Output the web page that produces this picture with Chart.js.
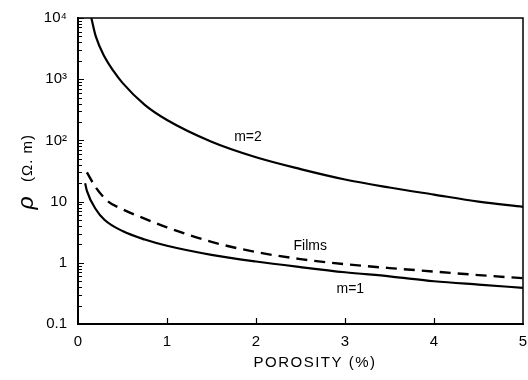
<!DOCTYPE html>
<html>
<head>
<meta charset="utf-8">
<script src="https://cdn.jsdelivr.net/npm/chart.js@4/dist/chart.umd.min.js"></script>
<style>
  html, body { margin: 0; padding: 0; background: #fff; }
  #wrap { width: 528px; height: 380px; }
</style>
</head>
<body>
<div id="wrap"><canvas id="rhoChart" width="528" height="380"></canvas></div>
<script>
// porosity (%) and resistivity (ohm.m)
const m2Porosity = [0.15, 0.2, 0.3, 0.4, 0.5, 0.75, 1, 1.5, 2, 2.5, 3, 3.5, 4, 4.5, 5];
const m2Rho      = [10000, 5000, 2300, 1350, 870, 380, 215, 95, 53, 34, 23, 17, 13, 10, 8.2];

const filmsPorosity = [0.1, 0.2, 0.34, 0.5, 0.64, 1, 1.5, 2, 2.5, 3, 3.5, 4, 4.5, 5];
const filmsRho      = [30, 17, 10, 7.5, 6.1, 3.8, 2.2, 1.5, 1.15, 0.95, 0.82, 0.72, 0.63, 0.56];

const m1Porosity = [0.08, 0.1, 0.2, 0.3, 0.5, 0.75, 1, 1.5, 2, 2.5, 3, 3.5, 4, 4.5, 5];
const m1Rho      = [20, 15, 7.5, 5, 3.3, 2.4, 1.9, 1.35, 1.05, 0.85, 0.7, 0.6, 0.5, 0.44, 0.39];

const xTicks = [0, 1, 2, 3, 4, 5];
const yTicks = [0.1, 1, 10, 100, 1000, 10000];
const yTickLabels = ['0.1', '1', '10', '10\u00B2', '10\u00B3', '10\u2074'];

const curveLabels = ['m=2', 'Films', 'm=1'];

function toPoints(xs, ys) {
    return xs.map((x, i) => ({ x: x, y: ys[i] }));
}

const FONT = '"Liberation Sans", Arial, sans-serif';

// inward ticks, top/right frame, titles and the curve labels
const decorPlugin = {
    id: 'decor',
    afterDraw(chart) {
        const ctx = chart.ctx;
        const xs = chart.scales.x;
        const ys = chart.scales.y;
        const a = chart.chartArea;
        ctx.save();
        ctx.strokeStyle = '#000';

        // frame top and right
        ctx.lineWidth = 1.5;
        ctx.beginPath();
        ctx.moveTo(a.left, a.top);
        ctx.lineTo(a.right, a.top);
        ctx.lineTo(a.right, a.bottom);
        ctx.stroke();

        // y ticks, major and minor
        ctx.lineWidth = 1.2;
        ctx.beginPath();
        for (let d = 0.1; d < 10000; d *= 10) {
            for (let k = 1; k <= 10; k++) {
                const v = d * k;
                if (v > 10000) break;
                const py = Math.round(ys.getPixelForValue(v)) + 0.5;
                const len = (k === 1 || k === 10) ? 6 : 4;
                ctx.moveTo(a.left, py);
                ctx.lineTo(a.left + len, py);
            }
        }
        // x ticks
        xTicks.slice(1, -1).forEach(v => {
            const px = Math.round(xs.getPixelForValue(v)) + 0.5;
            ctx.moveTo(px, a.bottom);
            ctx.lineTo(px, a.bottom - 6);
        });
        ctx.stroke();

        // curve labels
        ctx.fillStyle = '#000';
        ctx.font = '14px ' + FONT;
        ctx.textAlign = 'center';
        ctx.textBaseline = 'middle';
        const spots = [[1.91, 112], [2.61, 1.9], [3.06, 0.375]];
        spots.forEach((s, i) => {
            ctx.fillText(curveLabels[i], xs.getPixelForValue(s[0]), ys.getPixelForValue(s[1]));
        });

        // x title
        ctx.font = '15px ' + FONT;
        ctx.letterSpacing = '1.5px';
        ctx.fillText('POROSITY (%)', 315, 363);
        ctx.letterSpacing = '0px';

        // y title
        ctx.translate(27, 171);
        ctx.rotate(-Math.PI / 2);
        ctx.font = 'italic 23px ' + FONT;
        ctx.fillText('\u03C1', -32, 0);
        ctx.font = '15px ' + FONT;
        ctx.letterSpacing = '1px';
        ctx.fillText('(\u03A9. m)', 13, 1);
        ctx.restore();
    }
};

const ctx = document.getElementById('rhoChart').getContext('2d');
new Chart(ctx, {
    type: 'scatter',
    data: {
        datasets: [
            {
                label: 'm=2',
                data: toPoints(m2Porosity, m2Rho),
                showLine: true,
                borderColor: '#000',
                borderWidth: 2.2,
                pointRadius: 0,
                cubicInterpolationMode: 'monotone'
            },
            {
                label: 'Films',
                data: toPoints(filmsPorosity, filmsRho),
                showLine: true,
                borderColor: '#000',
                borderWidth: 2.4,
                borderDash: [11, 7],
                pointRadius: 0,
                cubicInterpolationMode: 'monotone'
            },
            {
                label: 'm=1',
                data: toPoints(m1Porosity, m1Rho),
                showLine: true,
                borderColor: '#000',
                borderWidth: 2.2,
                pointRadius: 0,
                cubicInterpolationMode: 'monotone'
            }
        ]
    },
    options: {
        responsive: false,
        animation: false,
        layout: { padding: { top: 18, right: 5, left: 0, bottom: 0 } },
        plugins: {
            legend: { display: false },
            tooltip: { enabled: false }
        },
        scales: {
            x: {
                type: 'linear',
                min: 0,
                max: 5,
                afterBuildTicks: (s) => { s.ticks = xTicks.map(v => ({ value: v })); },
                afterFit: (s) => { s.height = 56; s.paddingRight = 0; s.paddingLeft = 0; },
                grid: { drawOnChartArea: false, drawTicks: false },
                border: { color: '#000', width: 2 },
                ticks: {
                    color: '#000',
                    padding: 9,
                    font: { family: FONT, size: 15 }
                }
            },
            y: {
                type: 'logarithmic',
                min: 0.1,
                max: 10000,
                afterBuildTicks: (s) => { s.ticks = yTicks.map(v => ({ value: v })); },
                afterFit: (s) => { s.width = 78; s.paddingTop = 0; s.paddingBottom = 0; },
                grid: { drawOnChartArea: false, drawTicks: false },
                border: { color: '#000', width: 2 },
                ticks: {
                    color: '#000',
                    padding: 11,
                    font: { family: FONT, size: 15 },
                    callback: (v) => {
                        const i = yTicks.indexOf(v);
                        return i >= 0 ? yTickLabels[i] : '';
                    }
                }
            }
        }
    },
    plugins: [decorPlugin]
});
</script>
</body>
</html>
